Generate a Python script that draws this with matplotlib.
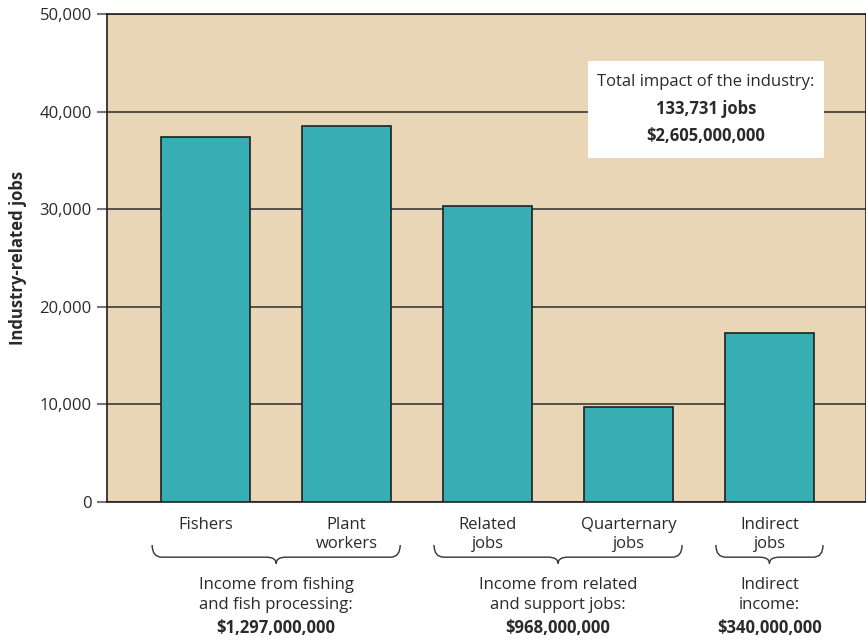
import numpy as np
import matplotlib
matplotlib.use('Agg')
import matplotlib.pyplot as plt
from matplotlib.path import Path
from matplotlib.patches import PathPatch, Rectangle
import matplotlib.transforms as mtransforms

plt.rcParams['font.family'] = ['Open Sans', 'DejaVu Sans']

# Datos
categorias = ['Fishers', 'Plant\nworkers', 'Related\njobs', 'Quarternary\njobs', 'Indirect\njobs']
empleos = [37400, 38500, 30300, 9700, 17300]
grupos = [(0, 1), (2, 3), (4, 4)]
grupo_texto = ['Income from fishing\nand fish processing:',
               'Income from related\nand support jobs:',
               'Indirect\nincome:']
grupo_monto = ['$1,297,000,000', '$968,000,000', '$340,000,000']
total_texto = ['Total impact of the industry:', '133,731 jobs', '$2,605,000,000']
yticks = [0, 10000, 20000, 30000, 40000, 50000]

fondo = '#e8d6b6'
barra = '#37adb4'
oscuro = '#231f20'
texto = '#2a2a2a'
fs = 12

fig = plt.figure(figsize=(8.66, 6.42), dpi=100)
ax = fig.add_axes([0.1236, 0.218, 0.8764, 0.760])
ax.set_facecolor(fondo)

x = np.arange(len(categorias))
ax.bar(x, empleos, width=0.63, color=barra, edgecolor=oscuro, linewidth=1.2, zorder=3)

ax.set_xlim(-0.7, 4.685)
ax.set_ylim(0, 50000)
ax.set_yticks(yticks)
ax.set_yticklabels([f'{v:,}' for v in yticks], fontsize=fs, color=texto)
ax.yaxis.grid(True, color='#3a3a3a', linewidth=1.2, zorder=1)
ax.set_axisbelow(True)
ax.tick_params(axis='y', length=7, width=1.5, color='#777777', pad=4)
ax.set_xticks(x)
ax.set_xticklabels(categorias, fontsize=fs, color=texto, linespacing=1.2)
ax.tick_params(axis='x', length=0, pad=11)
for s in ax.spines.values():
    s.set_color(oscuro)
    s.set_linewidth(1.2)
ax.set_ylabel('Industry-related jobs', fontsize=fs, fontweight='bold', color=texto, labelpad=9)

# Llaves debajo de los grupos
trans = mtransforms.blended_transform_factory(ax.transData, ax.transAxes)

def llave(x0, x1, y_top=-0.088, y_mid=-0.113, y_tip=-0.126, r=0.07):
    xc = (x0 + x1) / 2
    verts = [(x0, y_top), (x0, y_mid), (x0 + r, y_mid),
             (xc - r, y_mid), (xc, y_mid), (xc, y_tip),
             (xc, y_mid), (xc + r, y_mid),
             (x1 - r, y_mid), (x1, y_mid), (x1, y_top)]
    codes = [Path.MOVETO, Path.CURVE3, Path.CURVE3,
             Path.LINETO, Path.CURVE3, Path.CURVE3,
             Path.CURVE3, Path.CURVE3,
             Path.LINETO, Path.CURVE3, Path.CURVE3]
    p = PathPatch(Path(verts, codes), transform=trans, fill=False,
                  edgecolor='#333333', linewidth=1.0, clip_on=False)
    ax.add_patch(p)

for (a, b), txt, monto in zip(grupos, grupo_texto, grupo_monto):
    x0 = a - 0.38
    x1 = b + 0.38
    llave(x0, x1)
    xc = (a + b) / 2
    ax.text(xc, -0.191, txt, transform=trans, ha='center', va='center',
            fontsize=fs, color=texto, linespacing=1.3)
    ax.text(xc, -0.259, monto, transform=trans, ha='center', va='center',
            fontsize=fs, fontweight='bold', color=texto)

# Cuadro del total
ax.add_patch(Rectangle((0.634, 0.705), 0.311, 0.199, transform=ax.transAxes,
                       facecolor='white', edgecolor='none', zorder=4))
ax.text(0.789, 0.861, total_texto[0], transform=ax.transAxes, ha='center', va='center',
        fontsize=fs, color=texto, zorder=5)
ax.text(0.789, 0.805, total_texto[1], transform=ax.transAxes, ha='center', va='center',
        fontsize=fs, fontweight='bold', color=texto, zorder=5)
ax.text(0.789, 0.750, total_texto[2], transform=ax.transAxes, ha='center', va='center',
        fontsize=fs, fontweight='bold', color=texto, zorder=5)

fig.savefig('out.png', dpi=100)
